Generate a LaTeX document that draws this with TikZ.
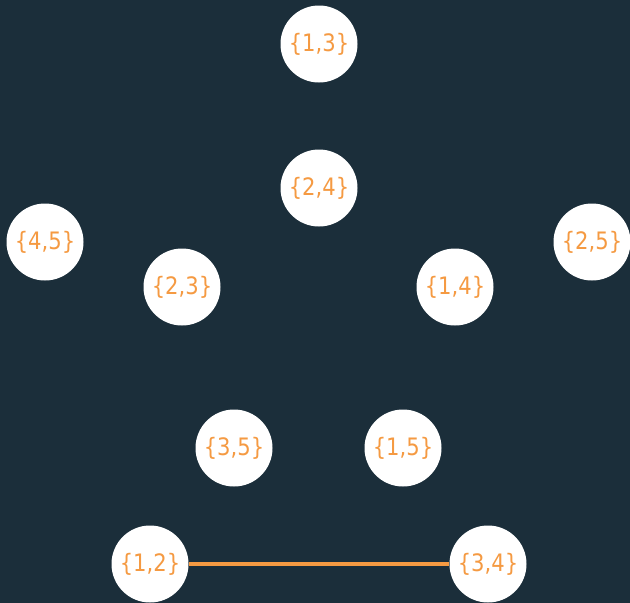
\documentclass[tikz,border=0pt]{standalone}
\usepackage{fontspec}
\setmainfont{DejaVu Sans}[FakeStretch=0.88]
\definecolor{bgnavy}{HTML}{1B2E3A}
\definecolor{setorange}{HTML}{F59A42}
\tikzset{
  vertex/.style={circle, fill=white, minimum size=77pt, inner sep=0pt,
    text=setorange, font=\fontsize{24}{24}\selectfont},
  edge/.style={draw=setorange, line width=4pt}
}
\begin{document}
\begin{tikzpicture}[x=1pt, y=-1pt]
  % background
  \fill[bgnavy] (0,0) rectangle (630,603);
  \useasboundingbox (0,0) rectangle (630,603);
  % outer vertices
  \node[vertex] (v13) at (319, 44) {\{1,3\}};
  \node[vertex] (v45) at (45, 242) {\{4,5\}};
  \node[vertex] (v25) at (592, 242) {\{2,5\}};
  \node[vertex] (v12) at (150, 564) {\{1,2\}};
  \node[vertex] (v34) at (488, 564) {\{3,4\}};
  % inner vertices
  \node[vertex] (v24) at (319, 188) {\{2,4\}};
  \node[vertex] (v23) at (182, 287) {\{2,3\}};
  \node[vertex] (v14) at (455, 287) {\{1,4\}};
  \node[vertex] (v35) at (234, 448) {\{3,5\}};
  \node[vertex] (v15) at (403, 448) {\{1,5\}};
  % edge
  \draw[edge] (v12) -- (v34);
\end{tikzpicture}
\end{document}
